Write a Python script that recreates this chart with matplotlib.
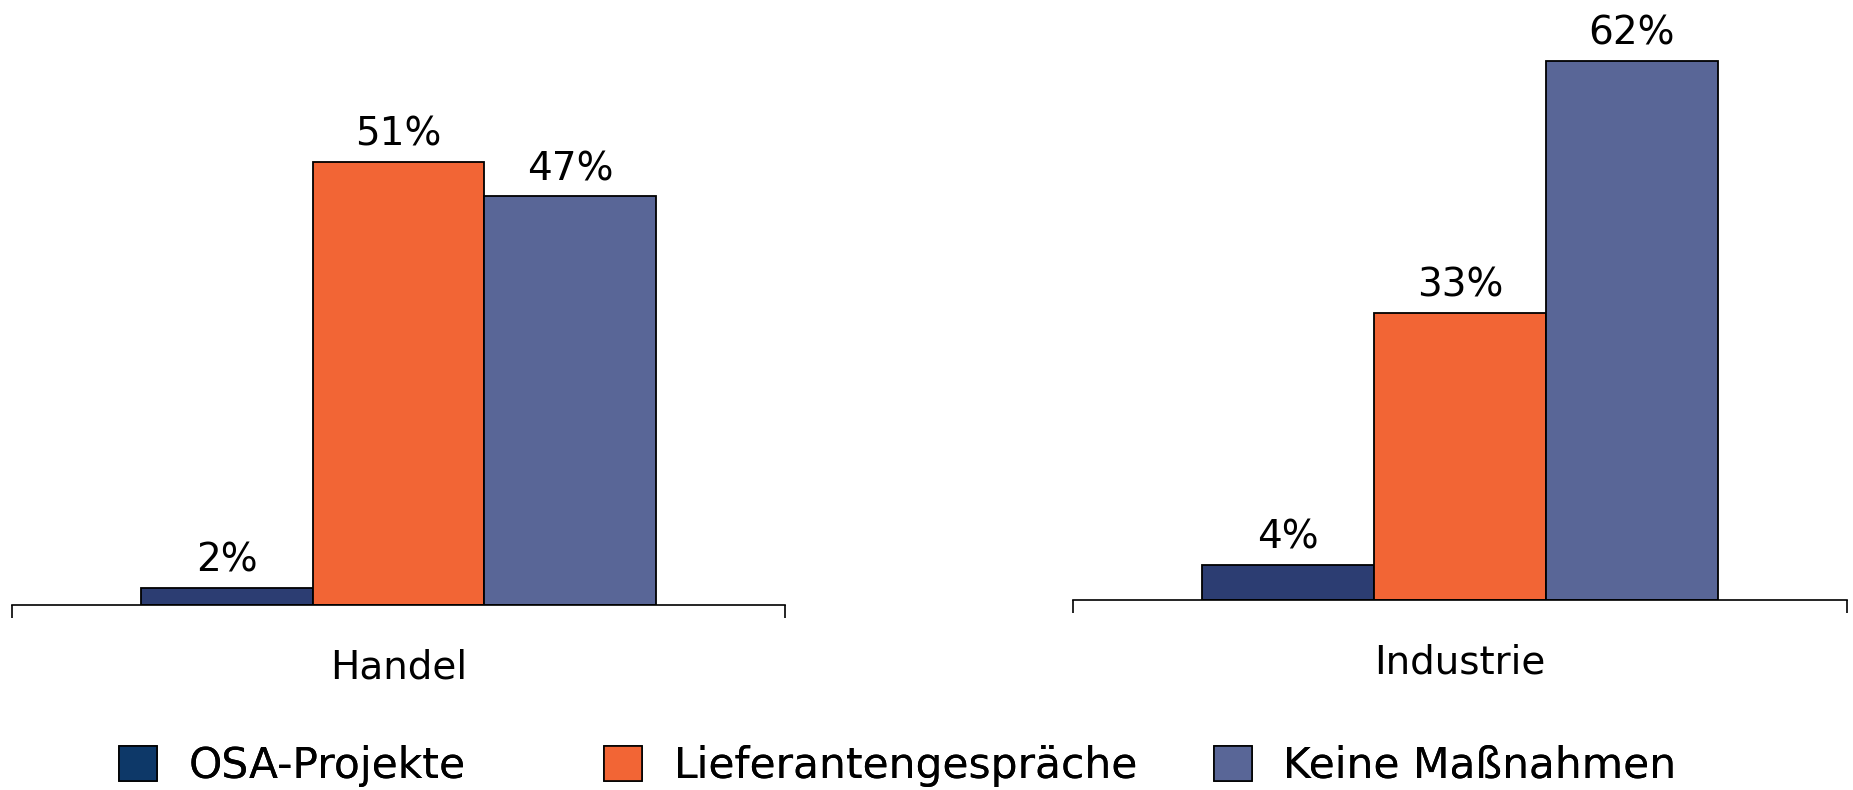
import matplotlib.pyplot as plt
from matplotlib.patches import Patch

# Daten
series = ['OSA-Projekte', 'Lieferantengespräche', 'Keine Maßnahmen']
handel = [2, 51, 47]
industrie = [4, 33, 62]
bar_colors = ['#2c3d72', '#f26535', '#596697']
legend_colors = ['#0d3868', '#f26535', '#596697']

plt.rcParams['font.family'] = ['DejaVu Sans']

fig = plt.figure(figsize=(18.53, 7.90), dpi=100)

# zwei getrennte Achsen, wie im Original
ax_l = fig.add_axes([0.0065, 185 / 790, 0.4171, 565 / 790])
ax_r = fig.add_axes([0.579, 190 / 790, 0.4177, 565 / 790])

width = 0.222
for ax, values, name in [(ax_l, handel, 'Handel'), (ax_r, industrie, 'Industrie')]:
    for i, (v, c) in enumerate(zip(values, bar_colors)):
        x = (i - 1) * width
        ax.bar(x, v, width=width, color=c, edgecolor='black', linewidth=1.3)
        ax.annotate(f'{v}%', (x, v), xytext=(0, 6), textcoords='offset points',
                    ha='center', va='bottom', fontsize=28)
    ax.set_xlim(-0.5, 0.5)
    ax.set_ylim(0, 65)
    for s in ['top', 'left', 'right']:
        ax.spines[s].set_visible(False)
    ax.spines['bottom'].set_linewidth(1.2)
    ax.set_yticks([])
    ax.set_xticks([0])
    ax.set_xticklabels([name], fontsize=28)
    ax.tick_params(axis='x', which='major', length=0, pad=31)
    ax.set_xticks([-0.5, 0.5], minor=True)
    ax.tick_params(axis='x', which='minor', length=9, width=1.2, direction='out')
    ax.patch.set_alpha(0)

# Legende: drei Einträge an festen Positionen
legend_x = [119, 604, 1214]
for lx, c, label in zip(legend_x, legend_colors, series):
    h = Patch(facecolor=c, edgecolor='black', linewidth=1.2)
    leg = fig.legend([h], [label], loc='center left', bbox_to_anchor=(lx / 1853, 1 - 766 / 790),
                     frameon=False, fontsize=30.5, handlelength=0.89, handleheight=0.89,
                     handletextpad=0.75, borderpad=0, borderaxespad=0)
    fig.add_artist(leg)

fig.savefig('out.png', dpi=100)
